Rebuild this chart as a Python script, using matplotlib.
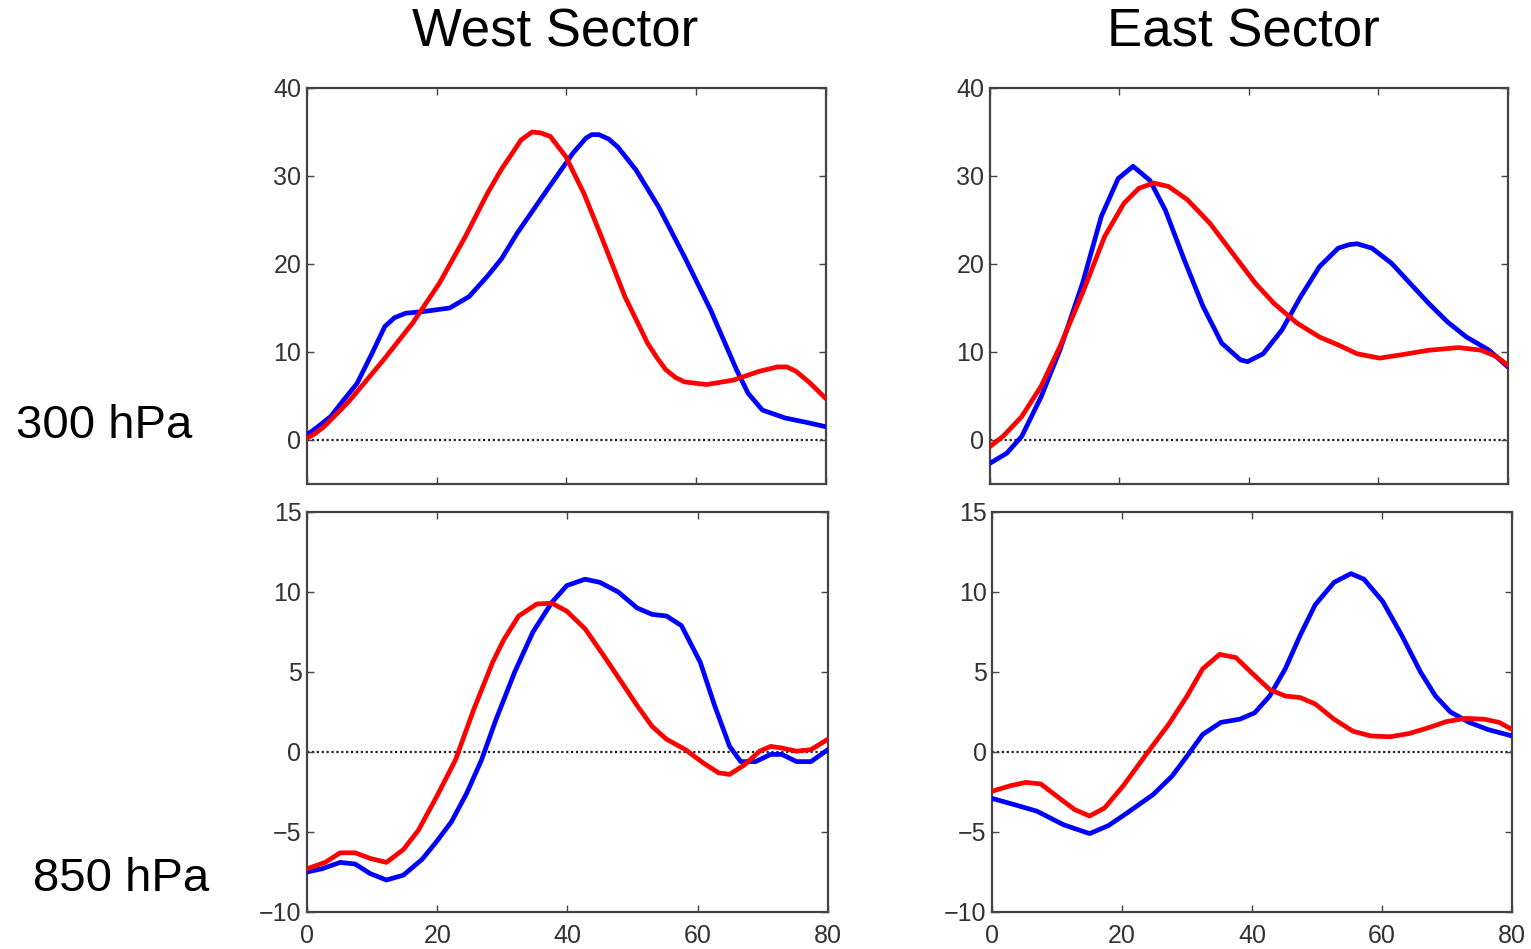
import numpy as np
import matplotlib.pyplot as plt

plt.rcParams['font.family'] = ['Liberation Sans', 'DejaVu Sans']

# 300 hPa, West Sector
tl_blue_x = [0, 1.5, 3.7, 5.5, 7.7, 10, 12, 13.5, 15.2, 18, 22, 25, 27.8, 30, 32.4, 37, 41, 43, 43.9, 45, 46.5, 47.9, 50.7,
             54.2, 58.2, 62.2, 66.2, 68, 70.2, 73.7, 77, 80]
tl_blue_y = [0.6, 1.4, 2.7, 4.4, 6.4, 9.8, 12.9, 13.9, 14.4, 14.6, 15, 16.3, 18.6, 20.6, 23.5, 28.4, 32.6, 34.3, 34.7, 34.7, 34.2, 33.3, 30.7,
             26.5, 20.8, 14.8, 8, 5.3, 3.4, 2.5, 2.0, 1.5]
tl_red_x = [0, 1.2, 2.6, 4.5, 6.6, 11.8, 16.3, 20.4, 24.4, 27.8, 30, 31.3, 33, 34.7, 36, 37.5, 39.9, 42.7, 45.6,
            49, 52.5, 54, 55.3, 56.8, 58.2, 61.6, 65.7, 69.7, 72.5, 74, 75.4, 77.5, 80]
tl_red_y = [0.2, 0.7, 1.5, 2.9, 4.5, 9.1, 13.3, 17.8, 23.1, 28, 30.8, 32.2, 34.1, 35, 34.9, 34.5, 32.2, 28, 22.7,
            16.3, 11, 9.3, 8, 7.1, 6.6, 6.3, 6.8, 7.8, 8.3, 8.3, 7.8, 6.5, 4.7]

# 300 hPa, East Sector
tr_blue_x = [0, 2.6, 4.9, 7.9, 10.8, 14.3, 17.2, 19.8, 22.1, 24.7, 27.1, 30, 32.9, 35.8,
             38.7, 39.8, 42.2, 45.1, 48, 50.9, 53.8, 55.5, 56.7, 59, 62, 64.9, 67.8, 70.7,
             73.6, 77.1, 80]
tr_blue_y = [-2.65, -1.5, 0.4, 4.9, 10.2, 17.8, 25.4, 29.7, 31.1, 29.5, 26.1, 20.5, 15.2, 11,
             9.1, 8.9, 9.8, 12.5, 16.3, 19.7, 21.8, 22.2, 22.3, 21.8, 20.1, 17.8, 15.5, 13.4,
             11.7, 10.2, 8.3]
tr_red_x = [0, 2, 4.9, 7.9, 10.8, 14.3, 17.7, 20.7, 23, 25.3, 27.6, 30.5, 34, 37.5, 41,
            43.9, 47.4, 50.9, 53.8, 56.7, 60.2, 63.7, 67.8, 72.4, 75.9, 78.2, 80]
tr_red_y = [-0.75, 0.4, 2.65, 6.1, 10.6, 16.7, 23.1, 26.9, 28.6, 29.2, 28.8, 27.3, 24.6, 21.2, 17.8,
            15.5, 13.3, 11.7, 10.8, 9.8, 9.3, 9.7, 10.2, 10.5, 10.2, 9.5, 8.5]

# 850 hPa, West Sector
bl_blue_x = [0, 2.3, 5.1, 7.4, 9.7, 12.2, 14.8, 17.7, 19.9, 22.2, 24.5, 26.8, 29, 31.9,
             34.7, 37.6, 39.9, 42.7, 45, 47.8, 50.7, 53, 55.2, 57.5, 60.4, 62.6, 64.9,
             66.6, 68.9, 71.2, 72.9, 75.2, 77.4, 80]
bl_blue_y = [-7.5, -7.3, -6.9, -7, -7.6, -8, -7.7, -6.7, -5.6, -4.35, -2.6, -0.5, 2, 5,
             7.5, 9.35, 10.4, 10.8, 10.6, 10, 9, 8.6, 8.5, 7.9, 5.6, 2.9, 0.35,
             -0.6, -0.6, -0.15, -0.15, -0.6, -0.6, 0.15]
bl_red_x = [0, 2.8, 5.1, 7.4, 9.7, 12.2, 14.8, 17.1, 19.9, 22.8, 25.6, 28.5, 30.2, 32.5,
            35.3, 37.6, 39.9, 42.7, 45.6, 48.4, 50.7, 53, 55.2, 58.1, 60.9, 63.2, 64.9,
            67.2, 69.5, 71.2, 72.9, 75.2, 77.4, 80]
bl_red_y = [-7.3, -6.9, -6.3, -6.3, -6.65, -6.9, -6.1, -4.9, -2.8, -0.5, 2.65, 5.6, 7, 8.5,
            9.25, 9.3, 8.8, 7.7, 6, 4.3, 2.9, 1.6, 0.8, 0.15, -0.7, -1.3, -1.4,
            -0.8, 0.05, 0.35, 0.25, 0.05, 0.15, 0.8]

# 850 hPa, East Sector
br_blue_x = [0, 3.5, 6.9, 11, 15, 17.9, 20.8, 24.8, 27.7, 30, 32.4, 35.2, 38.1, 40.4,
             42.7, 45.1, 47.4, 49.7, 52.6, 55.2, 57.2, 60.1, 63, 65.9, 68.2, 70.5,
             73.4, 76.3, 80]
br_blue_y = [-2.9, -3.3, -3.7, -4.55, -5.1, -4.6, -3.8, -2.65, -1.5, -0.25, 1.1, 1.85, 2.05, 2.45,
             3.5, 5.2, 7.3, 9.2, 10.6, 11.15, 10.8, 9.4, 7.3, 5, 3.5, 2.5,
             1.85, 1.4, 1]
br_red_x = [0, 2.9, 5.2, 7.5, 10.4, 12.7, 15, 17.3, 20.2, 23.7, 27.2, 30, 32.4, 35, 37.5,
            39.8, 42.7, 45.1, 47.4, 49.7, 52.6, 55.5, 58.3, 61.2, 64.1, 67, 69.9,
            72.8, 75.7, 78, 80]
br_red_y = [-2.45, -2.1, -1.9, -2, -2.9, -3.6, -4, -3.5, -2.1, -0.15, 1.75, 3.5, 5.2, 6.1, 5.9,
            5, 3.9, 3.5, 3.4, 3, 2.05, 1.3, 1, 0.95, 1.15, 1.5, 1.9,
            2.1, 2.05, 1.85, 1.4]

top_yticks = [0, 10, 20, 30, 40]
bot_yticks = [-10, -5, 0, 5, 10, 15]
xticks = [0, 20, 40, 60, 80]

fig = plt.figure(figsize=(15.31, 9.49), dpi=100)

panels = [
    ([0.2005, 0.490, 0.339, 0.4173], tl_blue_x, tl_blue_y, tl_red_x, tl_red_y, (-5, 40), top_yticks, False),
    ([0.6466, 0.490, 0.3383, 0.4173], tr_blue_x, tr_blue_y, tr_red_x, tr_red_y, (-5, 40), top_yticks, False),
    ([0.2005, 0.039, 0.3403, 0.4215], bl_blue_x, bl_blue_y, bl_red_x, bl_red_y, (-10, 15), bot_yticks, True),
    ([0.6480, 0.039, 0.3397, 0.4215], br_blue_x, br_blue_y, br_red_x, br_red_y, (-10, 15), bot_yticks, True),
]

for rect, bx, by, rx, ry, ylim, yt, show_x in panels:
    ax = fig.add_axes(rect)
    ax.axhline(0, color='#222222', linestyle=(0, (1, 1.2)), linewidth=1.6, zorder=1)
    ax.plot(bx, by, color='#0000ff', linewidth=3.4, solid_capstyle='round',
            solid_joinstyle='round', zorder=3)
    ax.plot(rx, ry, color='#ff0000', linewidth=3.4, solid_capstyle='round',
            solid_joinstyle='round', zorder=3)
    ax.set_xlim(0, 80)
    ax.set_ylim(*ylim)
    ax.set_xticks(xticks)
    ax.set_yticks(yt)
    if not show_x:
        ax.set_xticklabels([])
    ax.tick_params(direction='in', top=True, right=True, length=5, width=1,
                   labelsize=18, labelcolor='#333333', color='#444444')
    ax.tick_params(axis='y', pad=4)
    ax.tick_params(axis='x', pad=9)
    for sp in ax.spines.values():
        sp.set_color('#444444')
        sp.set_linewidth(1.6)

fig.text(0.3625, 0.966, 'West Sector', ha='center', va='center', fontsize=38)
fig.text(0.812, 0.966, 'East Sector', ha='center', va='center', fontsize=38)
fig.text(0.068, 0.551, '300 hPa', ha='center', va='center', fontsize=34)
fig.text(0.079, 0.074, '850 hPa', ha='center', va='center', fontsize=34)

fig.savefig('out.png', dpi=100)
